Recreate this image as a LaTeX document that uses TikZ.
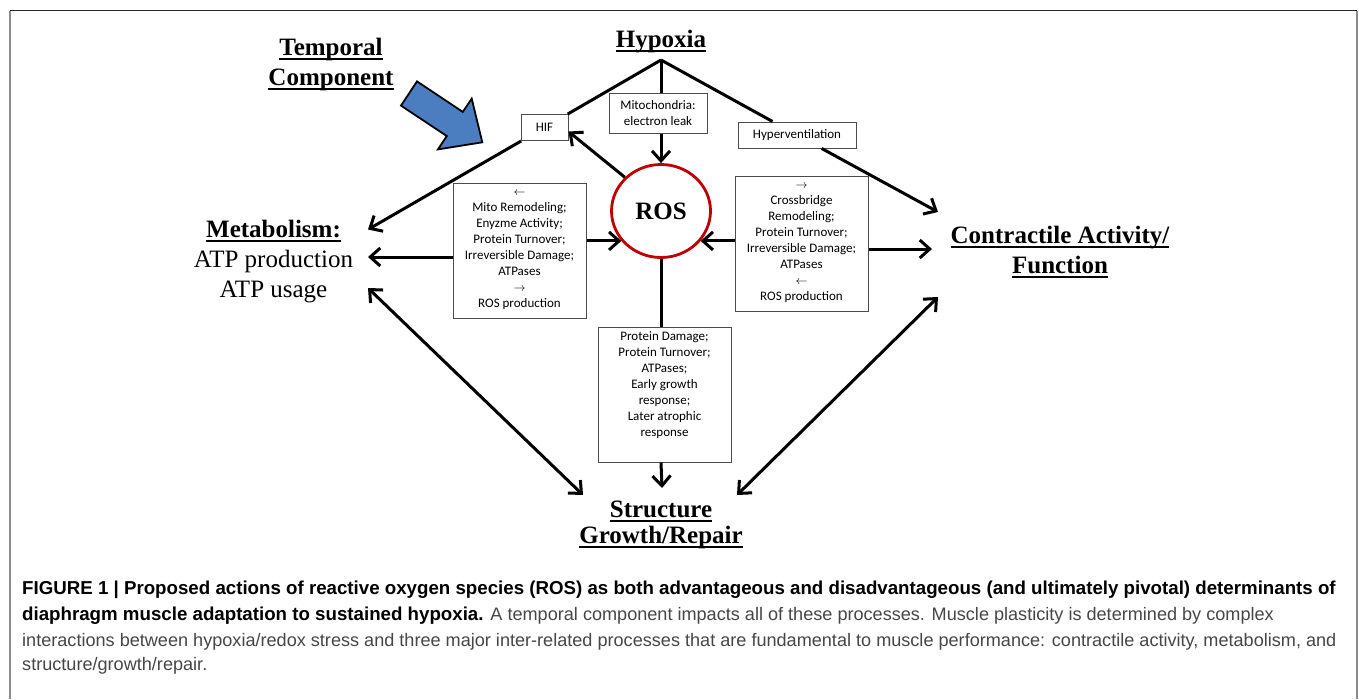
\documentclass[tikz,border=0pt]{standalone}
\usepackage{fontspec}
\setmainfont{Liberation Serif}
\newfontfamily\boxfont{Carlito}
\newfontfamily\capfont{Liberation Sans}
\usetikzlibrary{arrows.meta,shapes.geometric}

\newcommand{\ulText}[1]{\setbox0=\hbox{#1}\leavevmode\rlap{\copy0}\rule[-4.5pt]{\wd0}{2pt}}
\newcommand{\capBold}{\fontsize{18.7}{22}\selectfont\bfseries}
\newcommand{\capPlain}{\fontsize{18.1}{22}\selectfont\mdseries\color{capGray}}

\definecolor{rosRed}{RGB}{192,0,0}
\definecolor{arrowBlue}{RGB}{74,126,193}
\definecolor{capGray}{RGB}{70,70,70}

\begin{document}
\begin{tikzpicture}
[x=1pt,y=-1pt,
  lineDecorate/.style={-,line width=3pt},%
  arrowDecorate/.style={lineDecorate,-{Straight Barb[length=10pt,width=18pt]}},%
  bothDecorate/.style={lineDecorate,{Straight Barb[length=10pt,width=18pt]}-{Straight Barb[length=10pt,width=18pt]}},%
  boxDecorate/.style={shape=rectangle,draw=black!70,line width=1pt,fill=white,align=center,inner sep=1pt,font=\boxfont\fontsize{13}{16}\selectfont},%
  titleDecorate/.style={align=center,inner sep=0pt,font=\fontsize{25}{30}\selectfont\bfseries},%
  rosDecorate/.style={shape=ellipse,draw=rosRed,line width=2.8pt,minimum width=99pt,minimum height=93pt,font=\fontsize{25}{30}\selectfont\bfseries},%
  capDecorate/.style={anchor=base west,inner sep=0pt,font=\capfont}]
\useasboundingbox (0,0) rectangle (1359,699);
%% frame
\draw[line width=1.6pt,black!85] (10,10.5) -- (1357,10.5);
\draw[line width=1.6pt,black!45] (10,10.5) -- (10,699) (1357,10.5) -- (1357,699);
%% temporal arrow
\filldraw[fill=arrowBlue,draw=black,line width=1.8pt,line join=miter]
  (401,105.6) -- (417,81.4) -- (462.8,111.9) -- (471.7,98.6) -- (482.3,142.3) -- (437.9,149.4) -- (446.8,136.1) -- cycle;
%% titles
\node[titleDecorate] (temporal) at (331,64) {\ulText{Temporal}\\\ulText{Component}};
\node[titleDecorate,anchor=base] (hypoxia) at (661,47.7) {\ulText{Hypoxia}};
\node[titleDecorate,font=\fontsize{25}{30}\selectfont] (metab) at (273.5,262) {\ulText{\bfseries Metabolism:}\\ATP production\\ATP usage};
\node[titleDecorate] (contr) at (1060,251.6) {\ulText{Contractile Activity/}\\\ulText{Function}};
\node[titleDecorate] (struct) at (661,525) {\ulText{Structure}\\[-4pt]\ulText{Growth/Repair}};
%% nodes or vertices
\node[rosDecorate] (ros) at (661,211) {ROS};
\foreach \nodename/\x/\y/\w/\h/\txt in {hif/544.5/127.5/47/26/{HIF}, mito/658/113/98/40/{Mitochondria:\\electron leak}, hyper/797/135/118/26/{Hyperventilation}}
{
  \node[boxDecorate,minimum width=\w pt,minimum height=\h pt] (\nodename) at (\x,\y) {\txt};
}
\node[boxDecorate,minimum width=133pt,minimum height=135pt] (lbox) at (519.5,250.5)
  {$\leftarrow$\\Mito Remodeling;\\Enyzme Activity;\\Protein Turnover;\\Irreversible Damage;\\ATPases\\$\rightarrow$\\ROS production};
\node[boxDecorate,minimum width=133pt,minimum height=135pt] (rbox) at (801.5,243.5)
  {$\rightarrow$\\Crossbridge\\Remodeling;\\Protein Turnover;\\Irreversible Damage;\\ATPases\\$\leftarrow$\\ROS production};
\node[boxDecorate,minimum width=133pt,minimum height=135pt] (bbox) at (664.5,394.5)
  {Protein Damage;\\Protein Turnover;\\ATPases;\\Early growth\\response;\\Later atrophic\\response\\\strut};
%% arrow ends
\coordinate (apex) at (661,60);
\coordinate (metabTop) at (368,229.5);
\coordinate (metabMid) at (368,257);
\coordinate (metabLow) at (368,288);
\coordinate (contrTop) at (938,212);
\coordinate (contrMid) at (932,249);
\coordinate (contrLow) at (938,297);
\coordinate (structLeft) at (583,495);
\coordinate (structMid) at (662,488);
\coordinate (structRight) at (737,495);
%% edges or lines
\draw[lineDecorate] (apex) -- (hif);
\draw[lineDecorate] (apex) -- (apex |- mito.north);
\draw[lineDecorate] (apex) -- (hyper);
\draw[arrowDecorate] (apex |- mito.south) -- (ros);
\draw[arrowDecorate] (ros.137) -- ([yshift=-4pt]hif.east);
\draw[arrowDecorate] (lbox.west |- metabMid) -- (metabMid);
\draw[arrowDecorate] (lbox.east |- ros.217) -- (ros.217);
\draw[arrowDecorate] (rbox.west |- ros.323) -- (ros.323);
\draw[arrowDecorate] (rbox.east |- contrMid) -- (contrMid);
\draw[lineDecorate] (ros.south) -- (ros.south |- bbox.north);
\draw[arrowDecorate] (ros.south |- bbox.south) -- (structMid);
\path
\foreach \startnode/\endnode/\kind in {hif/metabTop/arrowDecorate, hyper/contrTop/arrowDecorate, metabLow/structLeft/bothDecorate, contrLow/structRight/bothDecorate}
{
  (\startnode) edge[\kind] (\endnode)
};
%% caption
\node[capDecorate] (cap1) at (22,594) {\capBold FIGURE 1 | Proposed actions of reactive oxygen species (ROS) as both advantageous and disadvantageous (and ultimately pivotal) determinants of};
\node[capDecorate] (cap2) at (22,620) {\capBold diaphragm muscle adaptation to sustained hypoxia. \capPlain A temporal component impacts all of these processes. Muscle plasticity is determined by complex};
\node[capDecorate] (cap3) at (22,646) {\capPlain interactions between hypoxia/redox stress and three major inter-related processes that are fundamental to muscle performance: contractile activity, metabolism, and};
\node[capDecorate] (cap4) at (22,670) {\capPlain structure/growth/repair.};
\end{tikzpicture}
\end{document}
